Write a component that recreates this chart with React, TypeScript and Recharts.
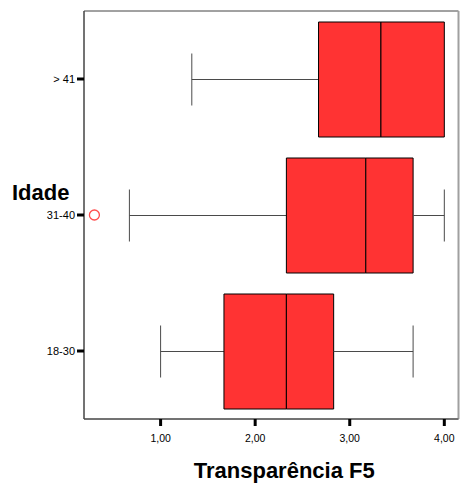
import { ComposedChart, Bar, Scatter, XAxis, YAxis, ReferenceArea, ReferenceLine } from "recharts";

// Age groups, top to bottom as in the reference
const groups = ["> 41", "31-40", "18-30"];
// Five-number summaries
const whiskerLow = [1.33, 0.67, 1.0];
const q1 = [2.67, 2.33, 1.67];
const median = [3.33, 3.17, 2.33];
const q3 = [4.0, 3.67, 2.83];
const whiskerHigh = [4.0, 4.0, 3.67];
const outlierGroups = ["31-40"];
const outlierValues = [0.3];
const xTicks = [1, 2, 3, 4];
const xDomain = [0.19, 4.15];

const BOX_FILL = "#ff3333";
const LINE = "#4a4a4a";
const FRAME = "#444444";
const FONT = "'Liberation Sans', Arial, Helvetica, sans-serif";

// stacked segments: invisible base, lower whisker, box halves, upper whisker
const data = groups.map((group, i) => ({
  group,
  base: whiskerLow[i],
  lowWhisker: q1[i] - whiskerLow[i],
  boxLow: median[i] - q1[i],
  boxHigh: q3[i] - median[i],
  highWhisker: whiskerHigh[i] - q3[i],
}));

const outliers = outlierGroups.map((group, i) => ({ group, outlier: outlierValues[i] }));

const CAP = 26;

function LowWhisker(props: any) {
  const { x, y, width, height } = props;
  if (!(width > 0)) return <g />;
  const cy = y + height / 2;
  return (
    <g stroke={LINE} strokeWidth={1}>
      <line x1={x} x2={x + width} y1={cy} y2={cy} />
      <line x1={x} x2={x} y1={cy - CAP} y2={cy + CAP} />
    </g>
  );
}

function HighWhisker(props: any) {
  const { x, y, width, height } = props;
  if (!(width > 0.5)) return <g />;
  const cy = y + height / 2;
  return (
    <g stroke={LINE} strokeWidth={1}>
      <line x1={x} x2={x + width} y1={cy} y2={cy} />
      <line x1={x + width} x2={x + width} y1={cy - CAP} y2={cy + CAP} />
    </g>
  );
}

function OutlierDot(props: any) {
  const { cx, cy } = props;
  if (cx == null || cy == null) return <g />;
  return <circle cx={cx} cy={cy} r={5} fill="#fff" stroke="#ff4d4d" strokeWidth={1.3} />;
}

function XTitle(props: any) {
  const vb = props.viewBox;
  return (
    <text
      x={vb.x + vb.width / 2 + 13}
      y={vb.y + 59}
      textAnchor="middle"
      fontSize={22}
      fontWeight="bold"
      fill="#000"
      fontFamily={FONT}
    >
      Transparência F5
    </text>
  );
}

function YTitle(props: any) {
  const vb = props.viewBox;
  return (
    <text x={vb.x + 12} y={vb.y + vb.height / 2 - 15.5} fontSize={22} fontWeight="bold" fill="#000" fontFamily={FONT}>
      Idade
    </text>
  );
}

const fmt = (v: number) => v.toFixed(2).replace(".", ",");

export default function App() {
  return (
    <div style={{ position: "absolute", left: 0, top: 0, fontFamily: FONT, background: "#fff" }}>
      <ComposedChart
        width={461}
        height={487}
        data={data}
        layout="vertical"
        margin={{ top: 11, right: 2.5, bottom: 0, left: 0 }}
        barSize={115}
      >
        <XAxis
          type="number"
          domain={xDomain}
          allowDataOverflow
          ticks={xTicks}
          tickFormatter={fmt}
          height={68}
          tickSize={7}
          tickMargin={9}
          axisLine={{ stroke: FRAME }}
          tickLine={{ stroke: "#000", strokeWidth: 3 }}
          tick={{ fill: "#000", fontSize: 10.5, fontFamily: FONT }}
          label={{ content: XTitle }}
        />
        <YAxis
          type="category"
          dataKey="group"
          allowDuplicatedCategory={false}
          width={84}
          tickSize={7}
          tickMargin={2}
          axisLine={{ stroke: FRAME }}
          tickLine={{ stroke: "#000", strokeWidth: 3 }}
          tick={{ fill: "#000", fontSize: 11, fontFamily: FONT }}
          label={{ content: YTitle }}
        />
        <ReferenceArea x1={xDomain[0]} x2={xDomain[1]} fill="none" stroke={FRAME} strokeWidth={1} ifOverflow="visible" />
        <ReferenceLine x={xDomain[1]} stroke="#a0a0a0" strokeWidth={2} ifOverflow="visible" />
        <Bar dataKey="base" stackId="box" fill="none" isAnimationActive={false} />
        <Bar dataKey="lowWhisker" stackId="box" shape={LowWhisker} isAnimationActive={false} />
        <Bar dataKey="boxLow" stackId="box" fill={BOX_FILL} stroke="#000" strokeWidth={1} isAnimationActive={false} />
        <Bar dataKey="boxHigh" stackId="box" fill={BOX_FILL} stroke="#000" strokeWidth={1} isAnimationActive={false} />
        <Bar dataKey="highWhisker" stackId="box" shape={HighWhisker} isAnimationActive={false} />
        <Scatter data={outliers} dataKey="outlier" shape={OutlierDot} isAnimationActive={false} />
      </ComposedChart>
    </div>
  );
}
